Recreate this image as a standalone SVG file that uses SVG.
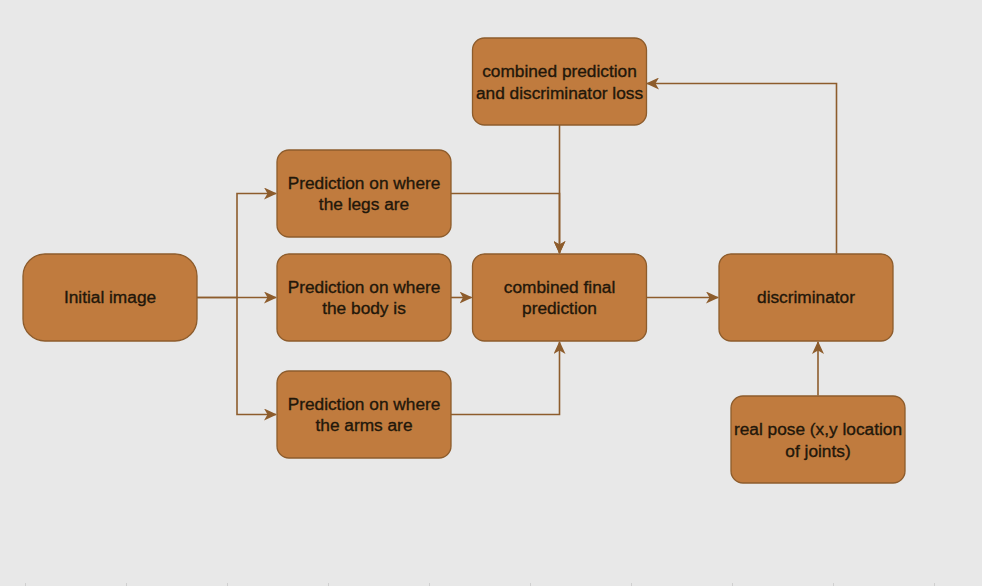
<svg xmlns="http://www.w3.org/2000/svg" width="982" height="586" viewBox="0 0 982 586">
<style>
.n{fill:#c07b3e;stroke:#8d5c2c;stroke-width:1.3}
.t{font-family:"Liberation Sans",Arial,sans-serif;font-size:17.3px;fill:#22170a;stroke:#22170a;stroke-width:0.35;text-anchor:middle}
.e{fill:none;stroke:#8d5c2c;stroke-width:1.6}
.tk{stroke:#cfcfcf;stroke-width:1}
</style>
<defs>
<marker id="a" viewBox="0 0 13 12" refX="12" refY="6" markerWidth="13" markerHeight="12" markerUnits="userSpaceOnUse" orient="auto">
<path d="M0,0 L13,6 L0,12 L3.5,6 Z" fill="#8d5c2c"/>
</marker>
</defs>
<rect width="982" height="586" fill="#e8e8e8"/>
<g id="ticks">
<line class="tk" x1="25.5" y1="583" x2="25.5" y2="586"/>
<line class="tk" x1="126.5" y1="583" x2="126.5" y2="586"/>
<line class="tk" x1="227.5" y1="583" x2="227.5" y2="586"/>
<line class="tk" x1="328.5" y1="583" x2="328.5" y2="586"/>
<line class="tk" x1="429.5" y1="583" x2="429.5" y2="586"/>
<line class="tk" x1="530.5" y1="583" x2="530.5" y2="586"/>
<line class="tk" x1="631.5" y1="583" x2="631.5" y2="586"/>
<line class="tk" x1="732.5" y1="583" x2="732.5" y2="586"/>
<line class="tk" x1="833.5" y1="583" x2="833.5" y2="586"/>
<line class="tk" x1="934.5" y1="583" x2="934.5" y2="586"/>
</g>
<g id="connectors">
<path class="e" d="M197,297.5 H237 V193.5 H276" marker-end="url(#a)"/>
<path class="e" d="M197,297.5 H276" marker-end="url(#a)"/>
<path class="e" d="M237,297.5 V414.5 H276" marker-end="url(#a)"/>
<path class="e" d="M451,193.5 H559.5 V253" marker-end="url(#a)"/>
<path class="e" d="M559.5,125 V253" marker-end="url(#a)"/>
<path class="e" d="M451,297.5 H471.5" marker-end="url(#a)"/>
<path class="e" d="M451,414.5 H559.5 V342" marker-end="url(#a)"/>
<path class="e" d="M646.5,297.5 H718" marker-end="url(#a)"/>
<path class="e" d="M836.5,253.5 V83.5 H647" marker-end="url(#a)"/>
<path class="e" d="M818,395.5 V342" marker-end="url(#a)"/>
</g>
<g id="initial">
<rect class="n" x="23" y="254" width="174" height="87" rx="22"/>
<text class="t" x="110" y="303">Initial image</text>
</g>
<g id="legs">
<rect class="n" x="277" y="150" width="174" height="87" rx="12"/>
<text class="t" x="364" y="188.5">Prediction on where</text>
<text class="t" x="364" y="210">the legs are</text>
</g>
<g id="body">
<rect class="n" x="277" y="254" width="174" height="87" rx="12"/>
<text class="t" x="364" y="292.5">Prediction on where</text>
<text class="t" x="364" y="314">the body is</text>
</g>
<g id="arms">
<rect class="n" x="277" y="371" width="174" height="87" rx="12"/>
<text class="t" x="364" y="409.5">Prediction on where</text>
<text class="t" x="364" y="431">the arms are</text>
</g>
<g id="combinedFinal">
<rect class="n" x="472.5" y="254" width="174" height="87" rx="12"/>
<text class="t" x="559.5" y="292.5">combined final</text>
<text class="t" x="559.5" y="314">prediction</text>
</g>
<g id="combinedLoss">
<rect class="n" x="472.5" y="38" width="174" height="87" rx="12"/>
<text class="t" x="559.5" y="77">combined prediction</text>
<text class="t" x="559.5" y="98.5">and discriminator loss</text>
</g>
<g id="discriminator">
<rect class="n" x="719" y="254" width="174" height="87" rx="12"/>
<text class="t" x="806" y="303">discriminator</text>
</g>
<g id="realPose">
<rect class="n" x="731" y="396" width="174" height="87" rx="12"/>
<text class="t" x="818" y="435">real pose (x,y location</text>
<text class="t" x="818" y="456.5">of joints)</text>
</g>
</svg>
